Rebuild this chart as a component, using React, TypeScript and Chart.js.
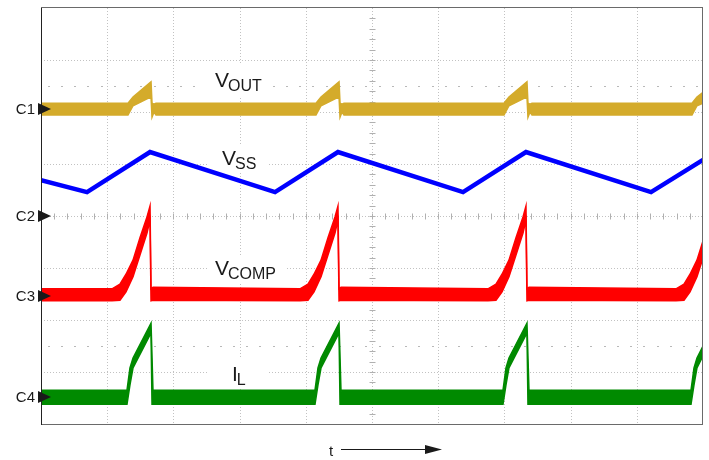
import React, { useEffect, useRef } from 'react';
import { Chart, registerables } from 'chart.js';

Chart.register(...registerables);

// Time axis in screen divisions (0..10), amplitude in screen divisions (0..8)
const X_VOUT = [0, 1.314, 1.39, 1.662, 1.677, 1.707, 1.737, 4.154, 4.23, 4.502, 4.517, 4.547, 4.577, 6.994, 7.069, 7.341, 7.356, 7.387, 7.417, 9.834, 9.909, 10];
const VOUT_HI = [6.17, 6.17, 6.29, 6.58, 6.17, 6.15, 6.17, 6.17, 6.29, 6.58, 6.17, 6.15, 6.17, 6.17, 6.29, 6.58, 6.17, 6.15, 6.17, 6.17, 6.29, 6.38];
const VOUT_LO = [5.94, 5.94, 6.12, 6.29, 5.9, 6.0, 5.94, 5.94, 6.12, 6.29, 5.9, 6.0, 5.94, 5.94, 6.12, 6.29, 5.9, 6.0, 5.94, 5.94, 6.12, 6.17];

const X_VSS = [0, 0.695, 1.647, 3.535, 4.486, 6.375, 7.326, 9.215, 10];
const VSS = [4.69, 4.46, 5.23, 4.46, 5.23, 4.46, 5.23, 4.46, 5.08];

const X_VCOMP = [0, 1.073, 1.193, 1.284, 1.39, 1.495, 1.601, 1.647, 1.662, 1.692, 3.912, 4.033, 4.124, 4.23, 4.335, 4.441, 4.486, 4.502, 4.532, 6.752, 6.873, 6.964, 7.069, 7.175, 7.281, 7.326, 7.341, 7.372, 9.592, 9.713, 9.804, 9.909, 10];
const VCOMP_HI = [2.6, 2.6, 2.69, 2.88, 3.15, 3.58, 3.98, 4.19, 2.6, 2.63, 2.6, 2.69, 2.88, 3.15, 3.58, 3.98, 4.19, 2.6, 2.63, 2.6, 2.69, 2.88, 3.15, 3.58, 3.98, 4.19, 2.6, 2.63, 2.6, 2.69, 2.88, 3.15, 3.52];
const VCOMP_LO = [2.37, 2.37, 2.38, 2.54, 2.83, 3.25, 3.67, 3.92, 2.37, 2.38, 2.37, 2.38, 2.54, 2.83, 3.25, 3.67, 3.92, 2.37, 2.38, 2.37, 2.38, 2.54, 2.83, 3.25, 3.67, 3.92, 2.37, 2.38, 2.37, 2.38, 2.54, 2.83, 3.19];

const X_IL = [0, 1.299, 1.344, 1.39, 1.662, 1.677, 1.692, 1.707, 4.139, 4.184, 4.23, 4.502, 4.517, 4.532, 4.547, 6.979, 7.024, 7.069, 7.341, 7.356, 7.372, 7.387, 9.819, 9.864, 9.909, 10];
const IL_HI = [0.65, 0.65, 1.08, 1.27, 1.94, 1.29, 0.62, 0.65, 0.65, 1.08, 1.27, 1.94, 1.29, 0.62, 0.65, 0.65, 1.08, 1.27, 1.94, 1.29, 0.62, 0.65, 0.65, 1.08, 1.27, 1.5];
const IL_LO = [0.38, 0.38, 0.75, 1.08, 1.75, 0.38, 0.38, 0.38, 0.38, 0.75, 1.08, 1.75, 0.38, 0.38, 0.38, 0.38, 0.75, 1.08, 1.75, 0.38, 0.38, 0.38, 0.38, 0.75, 1.08, 1.31];

const CHANNELS = ['C1', 'C2', 'C3', 'C4'];
const CHANNEL_LEVELS = [6.06, 4.0, 2.46, 0.52];

const C_GOLD = '#D4AB2B';
const C_BLUE = '#0000FF';
const C_RED = '#FF0000';
const C_GREEN = '#008A00';
const FONT = '"Liberation Sans", Arial, Helvetica, sans-serif';

const pts = (xs: number[], ys: number[]) => xs.map((x, i) => ({ x, y: ys[i] }));

const decor = {
  id: 'scopeDecor',
  beforeDatasetsDraw(chart: any) {
    const { ctx, chartArea: a, scales } = chart;
    const sx = scales.x;
    const sy = scales.y;
    ctx.save();
    // main grid (dotted)
    ctx.strokeStyle = '#c2c2c2';
    ctx.lineWidth = 1;
    ctx.setLineDash([1, 2]);
    for (let i = 1; i < 10; i++) {
      const x = Math.round(sx.getPixelForValue(i)) + 0.5;
      ctx.beginPath();
      ctx.moveTo(x, a.top);
      ctx.lineTo(x, a.bottom);
      ctx.stroke();
    }
    for (let j = 1; j < 8; j++) {
      const y = Math.round(sy.getPixelForValue(j)) + 0.5;
      ctx.beginPath();
      ctx.moveTo(a.left, y);
      ctx.lineTo(a.right, y);
      ctx.stroke();
    }
    ctx.setLineDash([]);
    // minor ticks on centre lines
    ctx.strokeStyle = '#b0b0b0';
    const cy = Math.round(sy.getPixelForValue(4)) + 0.5;
    for (let k = 1; k < 50; k++) {
      const x = Math.round(sx.getPixelForValue(k * 0.2)) + 0.5;
      ctx.beginPath();
      ctx.moveTo(x, cy - 3);
      ctx.lineTo(x, cy + 3);
      ctx.stroke();
    }
    const cx = Math.round(sx.getPixelForValue(5)) + 0.5;
    for (let k = 1; k < 40; k++) {
      const y = Math.round(sy.getPixelForValue(k * 0.2)) + 0.5;
      ctx.beginPath();
      ctx.moveTo(cx - 3, y);
      ctx.lineTo(cx + 3, y);
      ctx.stroke();
    }
    // sparse dotted rows
    ctx.fillStyle = '#b8b8b8';
    [6.5, 1.5].forEach((lvl) => {
      const y = Math.round(sy.getPixelForValue(lvl));
      for (let k = 0; k < 50; k++) {
        const x = Math.round(sx.getPixelForValue(k * 0.2 + 0.1));
        ctx.fillRect(x, y, 2, 1);
      }
    });
    // labels with white boxes
    const labels = [
      { main: 'V', sub: 'OUT', x: 215, y: 87, box: [207, 64, 268, 96] },
      { main: 'V', sub: 'SS', x: 222, y: 165, box: [207, 144, 268, 171] },
      { main: 'V', sub: 'COMP', x: 215, y: 275, box: [207, 255, 287, 283] },
      { main: 'I', sub: 'L', x: 232, y: 381, box: [207, 359, 268, 388] },
    ];
    labels.forEach((l) => {
      ctx.fillStyle = '#ffffff';
      ctx.fillRect(l.box[0], l.box[1], l.box[2] - l.box[0], l.box[3] - l.box[1]);
      ctx.fillStyle = '#1a1a1a';
      ctx.textAlign = 'left';
      ctx.textBaseline = 'alphabetic';
      ctx.font = `21px ${FONT}`;
      ctx.fillText(l.main, l.x, l.y);
      const w = ctx.measureText(l.main).width;
      ctx.font = `16px ${FONT}`;
      ctx.fillText(l.sub, l.x + w - 1, l.y + 4);
    });
    ctx.restore();
  },
  afterDatasetsDraw(chart: any) {
    const { ctx, chartArea: a, scales } = chart;
    const sy = scales.y;
    ctx.save();
    // frame
    ctx.lineWidth = 1;
    ctx.strokeStyle = '#6a6a6a';
    ctx.strokeRect(Math.round(a.left) + 0.5, Math.round(a.top) - 0.5, Math.round(a.right - a.left) - 1, Math.round(a.bottom - a.top) + 1);
    ctx.strokeStyle = '#222';
    ctx.beginPath();
    ctx.moveTo(Math.round(a.left) + 0.5, a.top);
    ctx.lineTo(Math.round(a.left) + 0.5, a.bottom + 1);
    ctx.stroke();
    // channel markers
    ctx.fillStyle = '#1a1a1a';
    ctx.font = `15px ${FONT}`;
    ctx.textAlign = 'right';
    ctx.textBaseline = 'middle';
    CHANNELS.forEach((c, i) => {
      const y = Math.round(sy.getPixelForValue(CHANNEL_LEVELS[i]));
      ctx.fillText(c, 35, y + 1);
      ctx.beginPath();
      ctx.moveTo(38, y - 6);
      ctx.lineTo(51, y);
      ctx.lineTo(38, y + 6);
      ctx.closePath();
      ctx.fill();
    });
    // time arrow
    ctx.font = `15px ${FONT}`;
    ctx.textAlign = 'left';
    ctx.textBaseline = 'alphabetic';
    ctx.fillText('t', 329, 456);
    ctx.strokeStyle = '#1a1a1a';
    ctx.beginPath();
    ctx.moveTo(341, 449.5);
    ctx.lineTo(428, 449.5);
    ctx.stroke();
    ctx.beginPath();
    ctx.moveTo(425, 445);
    ctx.lineTo(442, 449.5);
    ctx.lineTo(425, 454);
    ctx.closePath();
    ctx.fill();
    ctx.restore();
  },
};

export default function App() {
  const ref = useRef<HTMLCanvasElement | null>(null);
  useEffect(() => {
    if (!ref.current) return;
    const band = (xs: number[], hi: number[], lo: number[], color: string, label: string) => [
      { label: label + ' hi', data: pts(xs, hi), borderColor: color, backgroundColor: color, borderWidth: 1.5, pointRadius: 0, fill: false, tension: 0 },
      { label: label + ' lo', data: pts(xs, lo), borderColor: color, backgroundColor: color, borderWidth: 1.5, pointRadius: 0, fill: '-1', tension: 0 },
    ];
    const chart = new Chart(ref.current, {
      type: 'line',
      data: {
        datasets: [
          ...band(X_VOUT, VOUT_HI, VOUT_LO, C_GOLD, 'VOUT'),
          { label: 'VSS', data: pts(X_VSS, VSS), borderColor: C_BLUE, backgroundColor: C_BLUE, borderWidth: 4.5, pointRadius: 0, fill: false, tension: 0 },
          ...band(X_VCOMP, VCOMP_HI, VCOMP_LO, C_RED, 'VCOMP'),
          ...band(X_IL, IL_HI, IL_LO, C_GREEN, 'IL'),
        ] as any,
      },
      options: {
        animation: false,
        responsive: false,
        maintainAspectRatio: false,
        parsing: false,
        normalized: true,
        layout: { padding: { left: 41, top: 8, right: 6, bottom: 36 } },
        plugins: { legend: { display: false }, tooltip: { enabled: false } },
        scales: {
          x: { type: 'linear', min: 0, max: 10, display: false },
          y: { type: 'linear', min: 0, max: 8, display: false },
        },
      } as any,
      plugins: [decor],
    });
    return () => chart.destroy();
  }, []);
  return (
    <div style={{ position: 'absolute', left: 0, top: 0, width: 709, height: 460, background: '#fff' }}>
      <canvas ref={ref} width={709} height={460} style={{ width: 709, height: 460 }} />
    </div>
  );
}
